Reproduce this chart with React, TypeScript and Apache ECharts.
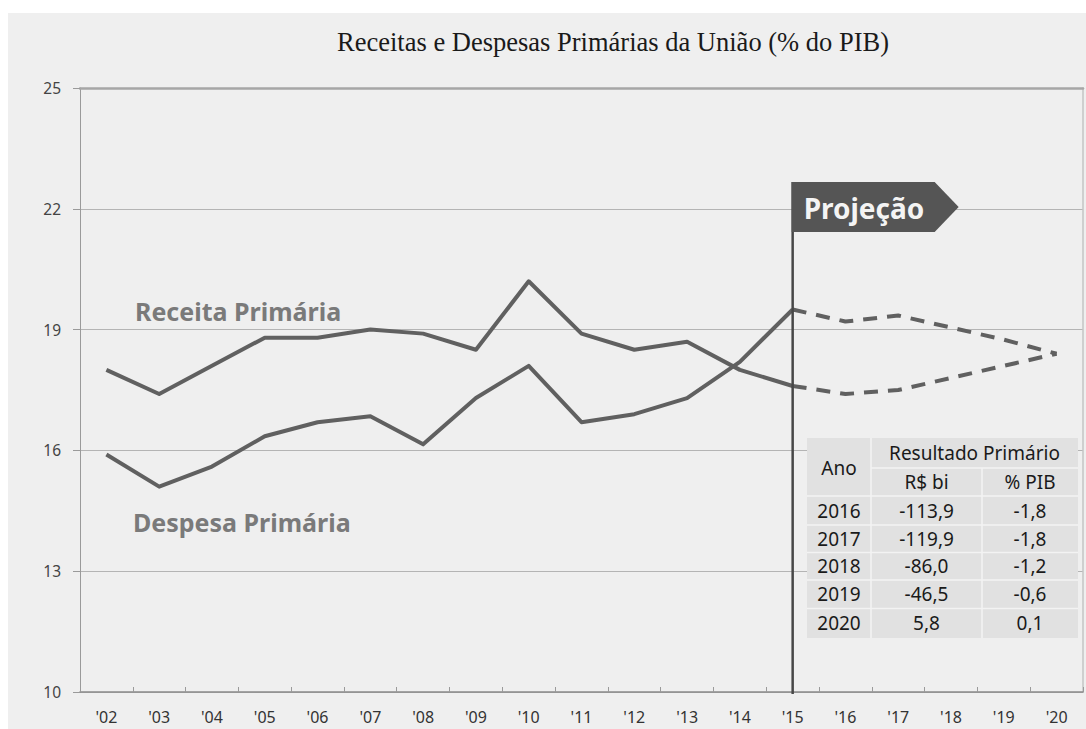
import React, { useEffect, useRef } from "react";
import * as echarts from "echarts";

const categories = ["'02", "'03", "'04", "'05", "'06", "'07", "'08", "'09", "'10", "'11", "'12", "'13", "'14", "'15", "'16", "'17", "'18", "'19", "'20"];
const receitaHist = [18.0, 17.4, 18.1, 18.8, 18.8, 19.0, 18.9, 18.5, 20.2, 18.9, 18.5, 18.7, 18.0, 17.6, null, null, null, null, null];
const receitaProj = [null, null, null, null, null, null, null, null, null, null, null, null, null, 17.6, 17.4, 17.5, 17.8, 18.1, 18.4];
const despesaHist = [15.9, 15.1, 15.6, 16.35, 16.7, 16.85, 16.15, 17.3, 18.1, 16.7, 16.9, 17.3, 18.2, 19.5, null, null, null, null, null];
const despesaProj = [null, null, null, null, null, null, null, null, null, null, null, null, null, 19.5, 19.2, 19.35, 19.05, 18.75, 18.4];

const tableYears = ["2016", "2017", "2018", "2019", "2020"];
const tableRS = ["-113,9", "-119,9", "-86,0", "-46,5", "5,8"];
const tablePIB = ["-1,8", "-1,8", "-1,2", "-0,6", "0,1"];

const TITLE = "Receitas e Despesas Primárias da União (% do PIB)";
const SANS = "'Noto Sans', sans-serif";
const LINE_COLOR = "#606060";

export default function App() {
  const ref = useRef<HTMLDivElement>(null);
  useEffect(() => {
    if (!ref.current) return;
    const chart = echarts.init(ref.current, null, { renderer: "svg" });
    const lineSeries = (name: string, data: (number | null)[], dashed: boolean) => ({
      name,
      type: "line",
      data,
      symbol: "none",
      connectNulls: false,
      z: 3,
      lineStyle: {
        color: LINE_COLOR,
        width: 4,
        type: dashed ? [14, 10] : "solid",
        cap: "butt",
        join: "round",
      },
    });
    chart.setOption({
      animation: false,
      backgroundColor: "#efefef",
      grid: { left: 72, right: 3, top: 75, bottom: 37, containLabel: false },
      xAxis: [
        {
          type: "category",
          data: categories,
          boundaryGap: true,
          axisLine: { show: true, lineStyle: { color: "#8a8a8a", width: 1.5 } },
          axisTick: { show: true, inside: true, length: 5, lineStyle: { color: "#9a9a9a" } },
          axisLabel: { color: "#333", fontFamily: SANS, fontSize: 16, margin: 17 },
          splitLine: { show: false },
        },
        {
          type: "category",
          data: categories,
          position: "top",
          axisLine: { show: true, lineStyle: { color: "#a6a6a6", width: 2.5 } },
          axisTick: { show: false },
          axisLabel: { show: false },
        },
      ],
      yAxis: [
        {
          type: "value",
          min: 10,
          max: 25,
          interval: 3,
          axisLine: { show: true, lineStyle: { color: "#9a9a9a", width: 1 } },
          axisTick: { show: true, length: 7, lineStyle: { color: "#9a9a9a" } },
          axisLabel: { color: "#444", fontFamily: SANS, fontSize: 15.5, margin: 19 },
          splitLine: { show: true, lineStyle: { color: "#b4b4b4", width: 1 } },
        },
        {
          type: "value",
          min: 10,
          max: 25,
          interval: 3,
          position: "right",
          axisLine: { show: true, lineStyle: { color: "#c4c4c4", width: 1.5 } },
          axisTick: { show: false },
          axisLabel: { show: false },
          splitLine: { show: false },
        },
      ],
      series: [
        lineSeries("Receita Primária", receitaHist, false),
        lineSeries("Receita Primária (projeção)", receitaProj, true),
        lineSeries("Despesa Primária", despesaHist, false),
        lineSeries("Despesa Primária (projeção)", despesaProj, true),
      ],
    });

    const [px, pyBottom] = chart.convertToPixel({ xAxisIndex: 0, yAxisIndex: 0 }, ["'15", 10]) as number[];
    const flagTop = 169;
    const flagBottom = 219;
    const flagLeft = px - 1;

    // table geometry (annotation)
    const tL = 799, tR = 1070, c1 = 863, c2 = 974;
    const rows = [425, 455, 483, 512, 539.5, 567, 595.5, 625];
    const cellFill = "#e1e1e1";
    const sep = "#f3f3f3";
    const tableEls: any[] = [];
    tableEls.push({ type: "rect", shape: { x: tL, y: rows[0], width: tR - tL, height: rows[7] - rows[0] }, style: { fill: cellFill }, z: 10 });
    tableEls.push({ type: "line", shape: { x1: c1, y1: rows[0], x2: c1, y2: rows[7] }, style: { stroke: sep, lineWidth: 1.5 }, z: 11 });
    tableEls.push({ type: "line", shape: { x1: c2, y1: rows[1], x2: c2, y2: rows[7] }, style: { stroke: sep, lineWidth: 1.5 }, z: 11 });
    tableEls.push({ type: "line", shape: { x1: c1, y1: rows[1], x2: tR, y2: rows[1] }, style: { stroke: sep, lineWidth: 1.5 }, z: 11 });
    for (let i = 2; i < 7; i++) {
      tableEls.push({ type: "line", shape: { x1: tL, y1: rows[i], x2: tR, y2: rows[i] }, style: { stroke: sep, lineWidth: 1.5 }, z: 11 });
    }
    const tText = (text: string, x: number, y: number) => ({
      type: "text",
      x,
      y,
      z: 12,
      style: { text, fill: "#1a1a1a", font: `19px ${SANS}`, textAlign: "center", textVerticalAlign: "middle" },
    });
    tableEls.push(tText("Ano", (tL + c1) / 2, rows[1]));
    tableEls.push(tText("Resultado Primário", (c1 + tR) / 2, (rows[0] + rows[1]) / 2));
    tableEls.push(tText("R$ bi", (c1 + c2) / 2, (rows[1] + rows[2]) / 2));
    tableEls.push(tText("% PIB", (c2 + tR) / 2, (rows[1] + rows[2]) / 2));
    for (let i = 0; i < tableYears.length; i++) {
      const cy = (rows[i + 2] + rows[i + 3]) / 2;
      tableEls.push(tText(tableYears[i], (tL + c1) / 2, cy));
      tableEls.push(tText(tableRS[i], (c1 + c2) / 2, cy));
      tableEls.push(tText(tablePIB[i], (c2 + tR) / 2, cy));
    }

    chart.setOption({
      graphic: [
        {
          type: "text",
          x: 605,
          y: 29,
          style: { text: TITLE, fill: "#1a1a1a", font: "26.5px 'Liberation Serif', serif", textAlign: "center", textVerticalAlign: "middle" },
        },
        {
          type: "text",
          x: 127,
          y: 298,
          z: 5,
          style: { text: "Receita Primária", fill: "#7a7a7a", font: `bold 25px ${SANS}`, textAlign: "left", textVerticalAlign: "middle" },
        },
        {
          type: "text",
          x: 125,
          y: 509,
          z: 5,
          style: { text: "Despesa Primária", fill: "#7a7a7a", font: `bold 25px ${SANS}`, textAlign: "left", textVerticalAlign: "middle" },
        },
        {
          type: "line",
          shape: { x1: px, y1: flagTop, x2: px, y2: pyBottom + 2 },
          style: { stroke: "#474747", lineWidth: 2.5 },
          z: 20,
        },
        {
          type: "polygon",
          shape: {
            points: [
              [flagLeft, flagTop],
              [flagLeft + 143, flagTop],
              [flagLeft + 167, (flagTop + flagBottom) / 2],
              [flagLeft + 143, flagBottom],
              [flagLeft, flagBottom],
            ],
          },
          style: { fill: "#555555" },
          z: 21,
        },
        {
          type: "text",
          x: flagLeft + 12,
          y: (flagTop + flagBottom) / 2 + 1,
          z: 22,
          style: { text: "Projeção", fill: "#f4f4f4", font: `bold 28px ${SANS}`, textAlign: "left", textVerticalAlign: "middle" },
        },
        ...tableEls,
      ],
    });
    return () => chart.dispose();
  }, []);
  return (
    <div style={{ position: "fixed", left: 0, top: 0, width: 1086, height: 729, background: "#ffffff" }}>
      <div ref={ref} style={{ position: "absolute", left: 8, top: 13, width: 1078, height: 716 }} />
    </div>
  );
}
